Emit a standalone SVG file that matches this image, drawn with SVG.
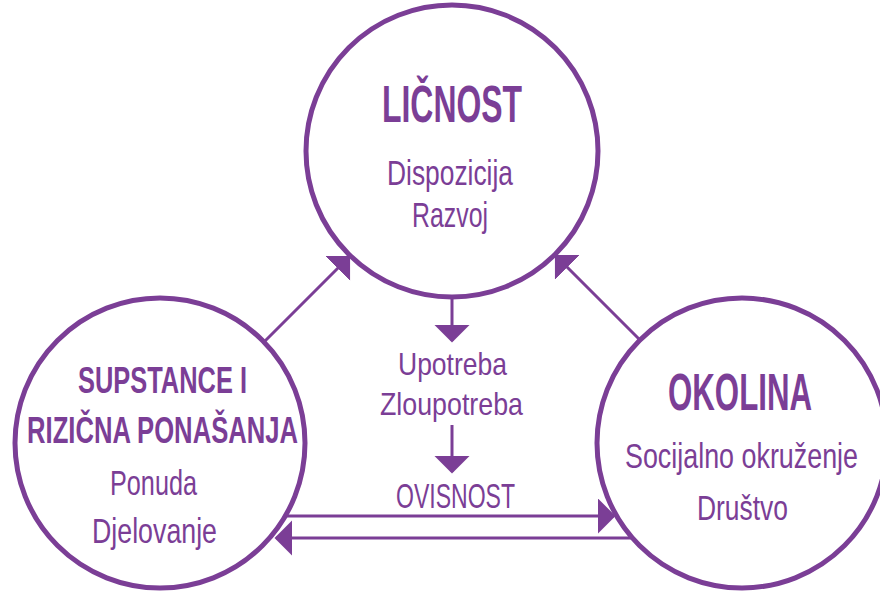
<svg xmlns="http://www.w3.org/2000/svg" width="880" height="592" viewBox="0 0 880 592">
<style>
.c{fill:#fff;stroke:#7B3E96;stroke-width:5}
.t{fill:#7B3E96;font-family:"Liberation Sans Narrow","Liberation Sans","DejaVu Sans Condensed",sans-serif;text-anchor:middle}
.h{font-weight:bold;font-size:52px}
.h2{font-weight:bold;font-size:37px}
.s{font-size:35px}
.m{font-size:32px}
.ln{stroke:#7B3E96;stroke-width:3;fill:none;marker-end:url(#ah)}
</style>
<defs>
<marker id="ah" markerUnits="userSpaceOnUse" markerWidth="20" markerHeight="36" refX="16" refY="17.5" orient="auto" viewBox="0 0 20 36">
<path d="M0,0 L17.5,17.5 L0,35 Z" fill="#7B3E96"/>
</marker>
</defs>
<rect width="880" height="592" fill="#fff"/>
<g id="connectors">
<line class="ln" x1="265" y1="341" x2="349" y2="257"/>
<line class="ln" x1="640" y1="340" x2="556" y2="256"/>
<line class="ln" x1="452" y1="298" x2="452" y2="341"/>
<line class="ln" x1="452" y1="425" x2="452" y2="472"/>
<line class="ln" x1="287" y1="516" x2="614" y2="516"/>
<line class="ln" x1="632" y1="538" x2="276" y2="538"/>
</g>
<g id="licnost">
<circle class="c" cx="452" cy="151" r="146"/>
<text class="t h" x="452" y="122" textLength="140" lengthAdjust="spacingAndGlyphs">LIČNOST</text>
<text class="t s" x="450" y="185" textLength="126" lengthAdjust="spacingAndGlyphs">Dispozicija</text>
<text class="t s" x="450" y="227" textLength="76" lengthAdjust="spacingAndGlyphs">Razvoj</text>
</g>
<g id="supstance">
<circle class="c" cx="160" cy="443" r="145"/>
<text class="t h2" x="162.5" y="393" textLength="169" lengthAdjust="spacingAndGlyphs">SUPSTANCE I</text>
<text class="t h2" x="162.5" y="443" textLength="271" lengthAdjust="spacingAndGlyphs">RIZIČNA PONAŠANJA</text>
<text class="t s" x="153.5" y="495" textLength="87" lengthAdjust="spacingAndGlyphs">Ponuda</text>
<text class="t s" x="154.5" y="543" textLength="125" lengthAdjust="spacingAndGlyphs">Djelovanje</text>
</g>
<g id="okolina">
<circle class="c" cx="742" cy="443" r="145"/>
<text class="t h" x="740" y="410" textLength="144" lengthAdjust="spacingAndGlyphs">OKOLINA</text>
<text class="t s" x="741.5" y="468" textLength="233" lengthAdjust="spacingAndGlyphs">Socijalno okruženje</text>
<text class="t s" x="742.5" y="520" textLength="91" lengthAdjust="spacingAndGlyphs">Društvo</text>
</g>
<g id="ovisnost">
<text class="t m" x="452.5" y="375" textLength="109" lengthAdjust="spacingAndGlyphs">Upotreba</text>
<text class="t m" x="451.5" y="415" textLength="143" lengthAdjust="spacingAndGlyphs">Zloupotreba</text>
<text class="t s" x="455.5" y="508" textLength="119" lengthAdjust="spacingAndGlyphs">OVISNOST</text>
</g>
</svg>
